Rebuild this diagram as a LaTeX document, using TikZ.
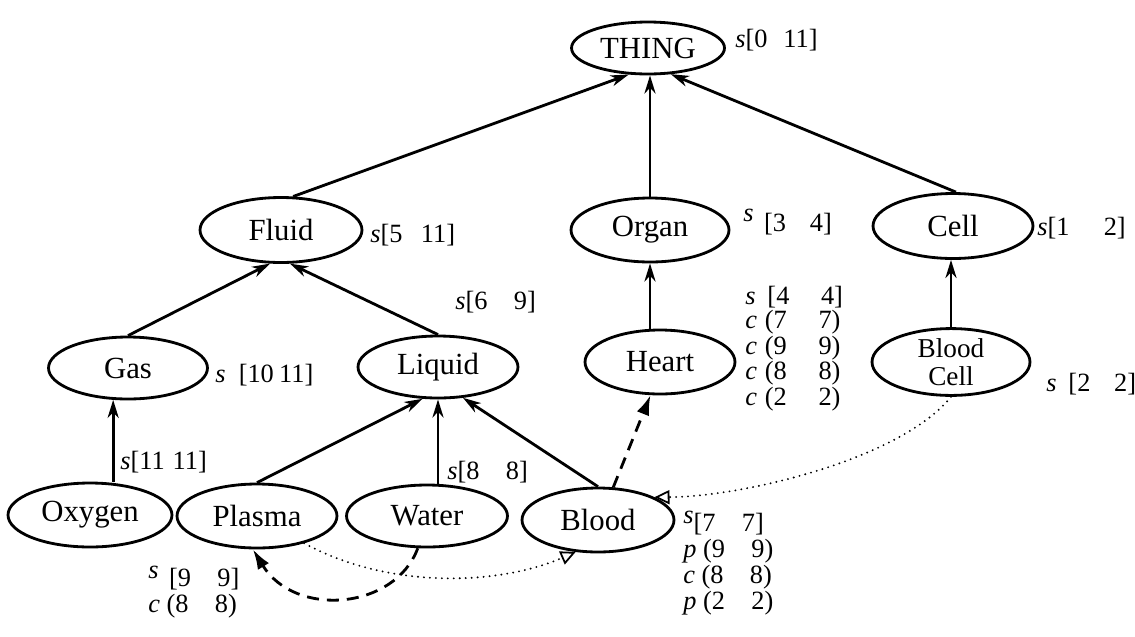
\documentclass[tikz,border=0pt]{standalone}
\usepackage{fontspec}
\setmainfont{Liberation Serif}
\usetikzlibrary{arrows.meta,shapes.geometric}
\begin{document}
\begin{tikzpicture}[x=0.02cm,y=-0.02cm,
  ell/.style={ellipse,draw,line width=1.6pt,inner sep=0pt,minimum width=3.16cm,minimum height=1.28cm,font=\fontsize{17.5}{19}\selectfont},
  lab/.style={anchor=west,inner sep=0pt,font=\fontsize{15}{13.6}\selectfont,align=left},
  isa/.style={line width=1.6pt,-{Stealth[length=3.6mm,width=2.2mm,inset=1.1mm]}},
  dep/.style={line width=1.6pt,dash pattern=on 2.4mm off 1.6mm,-{Latex[length=4mm,width=2.6mm]}},
  rel/.style={line width=1.2pt,line cap=round,dash pattern=on 0pt off 3.4pt,-{Triangle[open,length=3mm,width=2.8mm,line width=1pt]}}
]
\fill[white] (0,0) rectangle (1135,636);
\useasboundingbox (0,0) rectangle (1135,636);

% nodes
\node[ell,minimum width=3.06cm,minimum height=1.04cm] (THING) at (648,48) {THING};
\node[ell,minimum width=3.24cm,minimum height=1.3cm] (Fluid) at (281,230) {Fluid};
\node[ell,minimum height=1.28cm] (Organ) at (650,230) {Organ};
\node[ell,minimum width=3.2cm,minimum height=1.3cm] (Cell) at (953,226) {Cell};
\node[ell,minimum width=3.18cm,minimum height=1.24cm] (Gas) at (128,368) {Gas};
\node[ell,minimum width=3.2cm,minimum height=1.24cm] (Liquid) at (438,367) {Liquid};
\node[ell,minimum width=3.0cm,minimum height=1.28cm] (Heart) at (660,362) {Heart};
\node[ell,minimum width=3.16cm,minimum height=1.14cm,align=center,font=\fontsize{15.5}{16}\selectfont] (BloodCell) at (951,362) {Blood\\Cell};
\node[ell,minimum width=3.28cm,minimum height=1.28cm] (Oxygen) at (90,515) {Oxygen};
\node[ell,minimum width=3.2cm,minimum height=1.28cm] (Plasma) at (257,516) {Plasma};
\node[ell,minimum width=3.22cm,minimum height=1.24cm] (Water) at (427,516) {Water};
\node[ell,minimum width=3.04cm,minimum height=1.28cm] (Blood) at (598,520) {Blood};

% labels
\node[lab] (lThing) at (735,40) {\textit{s}[0\hspace{0.6em}11]};
\node[lab] (lFluid) at (370,235) {\textit{s}[5\hspace{0.7em}11]};
\node[lab] (lOrgan) at (743,222) {\raisebox{.35em}{\textit{s}}\hspace{.4em}[3\hspace{0.9em}4]};
\node[lab] (lCell) at (1037,228) {\textit{s}[1\hspace{1.3em}2]};
\node[lab] (lGas) at (215,375) {\textit{s}\hspace{.5em}[10\hspace{.2em}11]};
\node[lab] (lOxy) at (120,462) {\textit{s}[11\hspace{.3em}11]};
\node[lab] (lWater) at (447,472) {\textit{s}[8\hspace{1em}8]};
\node[lab] (lLiquid) at (455,302) {\textit{s}[6\hspace{1em}9]};
\node[lab,anchor=north west] (lHeart) at (745,286) {\textit{s}\hspace{.45em}[4\hspace{1.2em}4]\\
  \textit{c}\hspace{.3em}(7\hspace{1.2em}7)\\
  \textit{c}\hspace{.3em}(9\hspace{1.2em}9)\\
  \textit{c}\hspace{.3em}(8\hspace{1.2em}8)\\
  \textit{c}\hspace{.3em}(2\hspace{1.2em}2)};
\node[lab] (lBloodCell) at (1046,384) {\textit{s}\hspace{.45em}[2\hspace{0.9em}2]};
\node[lab,anchor=north west,font=\fontsize{15}{14.7}\selectfont] (lPlasma) at (148,566) {\raisebox{.3em}{\textit{s}}\hspace{.4em}[9\hspace{1em}9]\\
  \textit{c}\hspace{.25em}(8\hspace{1em}8)};
\node[lab,anchor=north west,font=\fontsize{15}{14.7}\selectfont] (lBlood) at (683,511) {\raisebox{.3em}{\textit{s}}[7\hspace{1em}7]\\
  \textit{p}\hspace{.25em}(9\hspace{1em}9)\\
  \textit{c}\hspace{.25em}(8\hspace{1em}8)\\
  \textit{p}\hspace{.25em}(2\hspace{1em}2)};

% is-a edges
\draw[isa] (Fluid.70) -- (THING.234);
\draw[isa] (Organ.north) -- (Organ.north |- THING.south);
\draw[isa] (Cell.85) -- (THING.311);
\draw[isa] (Gas.north) -- (Fluid.252);
\draw[isa] (Liquid.north) -- (Fluid.285);
\draw[isa] (Oxygen.north -| Gas.245) -- (Gas.245);
\draw[isa] (Plasma.north) -- (Liquid.244);
\draw[isa] (Water.north -| Liquid.south) -- (Liquid.south);
\draw[isa] (Blood.north) -- (Liquid.309);
\draw[isa] (Heart.north -| Organ.south) -- (Organ.south);
\draw[isa] (BloodCell.north) -- (BloodCell.north |- Cell.south);

% dashed edges
\draw[dep] (Blood.65) -- (Heart.254);
\draw[dep] (Water.254) .. controls (395,610) and (295,618) .. (Plasma.263);

% dotted edges
\draw[rel] (BloodCell.south) .. controls (900,460) and (740,497) .. (Blood.22);
\draw[rel] (Plasma.330) .. controls (390,590) and (500,585) .. (Blood.235);
\end{tikzpicture}
\end{document}
